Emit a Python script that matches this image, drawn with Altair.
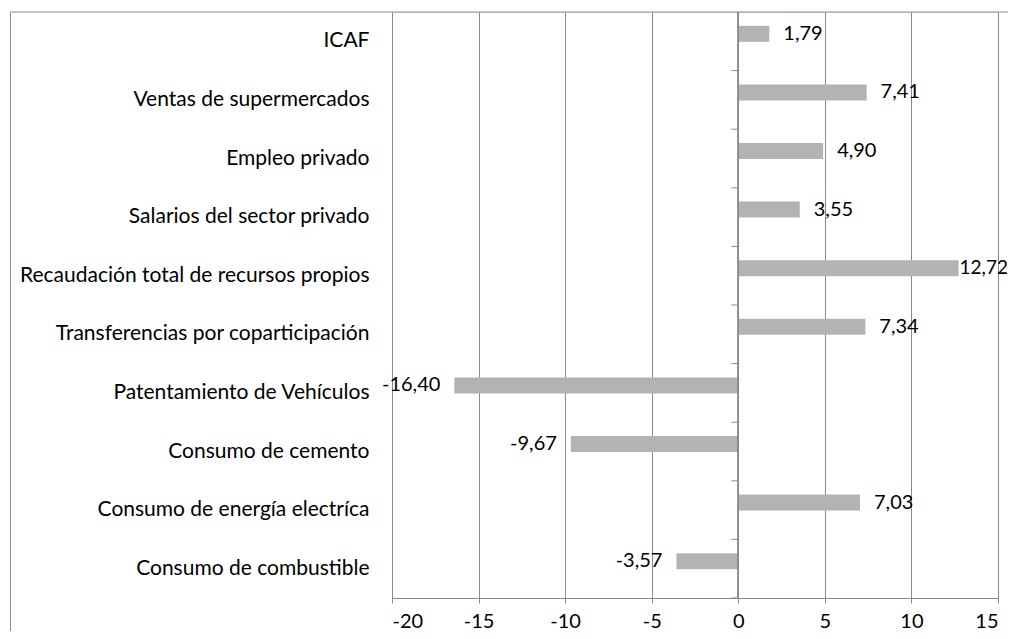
import altair as alt
import pandas as pd

categories = [
    "ICAF",
    "Ventas de supermercados",
    "Empleo privado",
    "Salarios del sector privado",
    "Recaudación total de recursos propios",
    "Transferencias por coparticipación",
    "Patentamiento de Vehículos",
    "Consumo de cemento",
    "Consumo de energía electríca",
    "Consumo de combustible",
]
values = [1.79, 7.41, 4.90, 3.55, 12.72, 7.34, -16.40, -9.67, 7.03, -3.57]
x_ticks = [-20, -15, -10, -5, 0, 5, 10, 15]
labels = [f"{v:.2f}".replace(".", ",") for v in values]

df = pd.DataFrame({"cat": categories, "v": values, "lab": labels})

FONT = "Lato"
FS = 20
GRAY = "#8a8a8a"
BAR = "#b3b3b3"

x_scale = alt.Scale(domain=[-20, 15], nice=False, zero=False)
y_scale = alt.Scale(domain=categories, paddingInner=0, paddingOuter=0)

x_axis = alt.Axis(values=x_ticks, title=None, grid=True, gridColor=GRAY,
                  domainColor=GRAY, tickColor=GRAY, tickSize=5,
                  labelFontSize=FS, labelFont=FONT, labelColor="black",
                  labelPadding=8, labelExpr="'' + datum.value")
y_axis = alt.Axis(title=None, domain=False, ticks=False, grid=False,
                  labelPadding=23, labelFontSize=21, labelFont=FONT,
                  labelColor="black", labelLimit=0)


def xq(field):
    return alt.X(field, type="quantitative", scale=x_scale, axis=x_axis)


def yc(**kw):
    return alt.Y("cat:N", scale=y_scale, sort=categories, axis=y_axis, **kw)


base = alt.Chart(df)

bars = base.mark_bar(height=16, yOffset=-7.5, color=BAR).encode(
    x=xq("v"), x2=alt.datum(0), y=yc(),
)

zero_rule = base.mark_rule(color=GRAY).encode(
    x=xq("z"),
).transform_calculate(z="0")

ticks = base.mark_rule(color=GRAY, x2Offset=-7).encode(
    x=xq("z"), x2=alt.datum(0), y=yc(bandPosition=1),
).transform_calculate(z="0")

pos_text = base.transform_filter("datum.v > 0 && datum.v < 12").mark_text(
    align="left", baseline="middle", dx=14, yOffset=-7.5, fontSize=FS, font=FONT, color="black"
).encode(x=xq("v"), y=yc(), text="lab:N")

big_text = base.transform_filter("datum.v >= 12").mark_text(
    align="left", baseline="middle", dx=1, yOffset=-7.5, fontSize=19, font=FONT, color="black"
).encode(x=xq("v"), y=yc(), text="lab:N")

neg_text = base.transform_filter("datum.v < 0").mark_text(
    align="right", baseline="middle", dx=-14, yOffset=-7.5, fontSize=FS, font=FONT, color="black"
).encode(x=xq("v"), y=yc(), text="lab:N")

frame_df = pd.DataFrame({"k": [0]})
left_border = alt.Chart(frame_df).mark_rule(color=GRAY, clip=False).encode(
    x=alt.value(-381.5), y=alt.value(0), y2=alt.value(640)
)
top_border = alt.Chart(frame_df).mark_rule(color=GRAY, clip=False).encode(
    x=alt.value(-381.5), x2=alt.value(640), y=alt.value(0)
)

chart = alt.layer(
    bars, zero_rule, ticks, pos_text, big_text, neg_text, left_border, top_border
).properties(
    width=606, height=586,
    autosize=alt.AutoSizeParams(type="none"),
    padding={"left": 384, "top": 4, "right": 10, "bottom": 33},
).configure_view(stroke=GRAY, strokeWidth=1).configure(background="white")

chart.save("out.html", embed_options={"renderer": "svg", "actions": False})
